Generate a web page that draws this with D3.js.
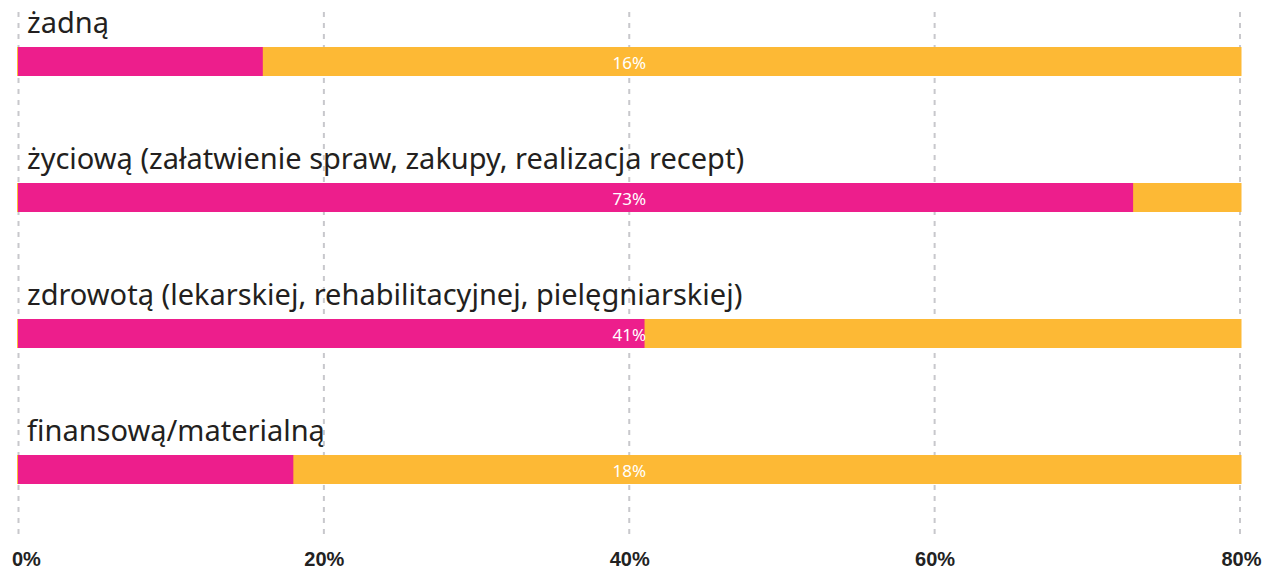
<!DOCTYPE html>
<html>
<head>
<meta charset="utf-8">
<script src="https://cdn.jsdelivr.net/npm/d3@7"></script>
<style>
  html, body { margin: 0; padding: 0; background: #fff; }
  svg { display: block; }
</style>
</head>
<body>
<svg id="chart" width="1266" height="569"></svg>
<script>
// Forms of support received (share of respondents)
const categories = [
  "żadną",
  "życiową (załatwienie spraw, zakupy, realizacja recept)",
  "zdrowotą (lekarskiej, rehabilitacyjnej, pielęgniarskiej)",
  "finansową/materialną"
];
const values = [16, 73, 41, 18];
const tickValues = [0, 20, 40, 60, 80];
const tickLabels = ["0%", "20%", "40%", "60%", "80%"];
const maxValue = 80;

const pink = "#ED1E8C";
const yellow = "#FDB935";

const svg = d3.select("#chart");

const x = d3.scaleLinear().domain([0, maxValue]).range([18.5, 1240]);
const y = d3.scaleBand().domain(categories).range([20, 20 + 136 * categories.length]);

const barOffset = 27, barH = 29;

// dashed vertical grid
svg.append("g")
  .selectAll("line")
  .data(tickValues)
  .join("line")
  .attr("x1", d => x(d)).attr("x2", d => x(d))
  .attr("y1", 12).attr("y2", 536)
  .attr("stroke", "#c8c8cc")
  .attr("stroke-width", 2)
  .attr("stroke-dasharray", "5,6");

const rows = svg.append("g")
  .selectAll("g")
  .data(categories.map((c, i) => ({ c, v: values[i] })))
  .join("g")
  .attr("transform", d => `translate(0,${y(d.c)})`);

// full-length background track
rows.append("rect")
  .attr("x", x(0) - 1.5)
  .attr("y", barOffset)
  .attr("width", x(maxValue) - x(0) + 3)
  .attr("height", barH)
  .attr("fill", yellow);

// value bar
rows.append("rect")
  .attr("x", x(0) - 0.5)
  .attr("y", barOffset)
  .attr("width", d => x(d.v) - x(0) + 0.5)
  .attr("height", barH)
  .attr("fill", pink);

// category labels
rows.append("text")
  .attr("x", 27)
  .attr("y", barOffset - 14)
  .attr("font-family", "'Noto Sans', sans-serif")
  .attr("font-size", 29)
  .attr("fill", "#231f20")
  .text(d => d.c);

// value labels, centred in the track
rows.append("text")
  .attr("x", x(maxValue / 2))
  .attr("y", barOffset + 22)
  .attr("text-anchor", "middle")
  .attr("font-family", "'Noto Sans', sans-serif")
  .attr("font-size", 17)
  .attr("fill", "#fff")
  .text(d => d.v + "%");

// bottom axis labels
const xAxis = d3.axisBottom(x).tickValues(tickValues).tickFormat((d, i) => tickLabels[i]).tickSize(0);
const axisG = svg.append("g").attr("transform", "translate(0,550)").call(xAxis);
axisG.select(".domain").remove();
axisG.selectAll("text")
  .attr("font-family", "'Liberation Sans', Arial, sans-serif")
  .attr("font-weight", "bold")
  .attr("font-size", 20)
  .attr("fill", "#222")
  .attr("y", 16)
  .attr("dy", 0)
  .attr("text-anchor", (d, i) => i === 0 ? "start" : "middle")
  .attr("dx", (d, i) => i === 0 ? -7 : (i === tickValues.length - 1 ? 1 : 0));
</script>
</body>
</html>
